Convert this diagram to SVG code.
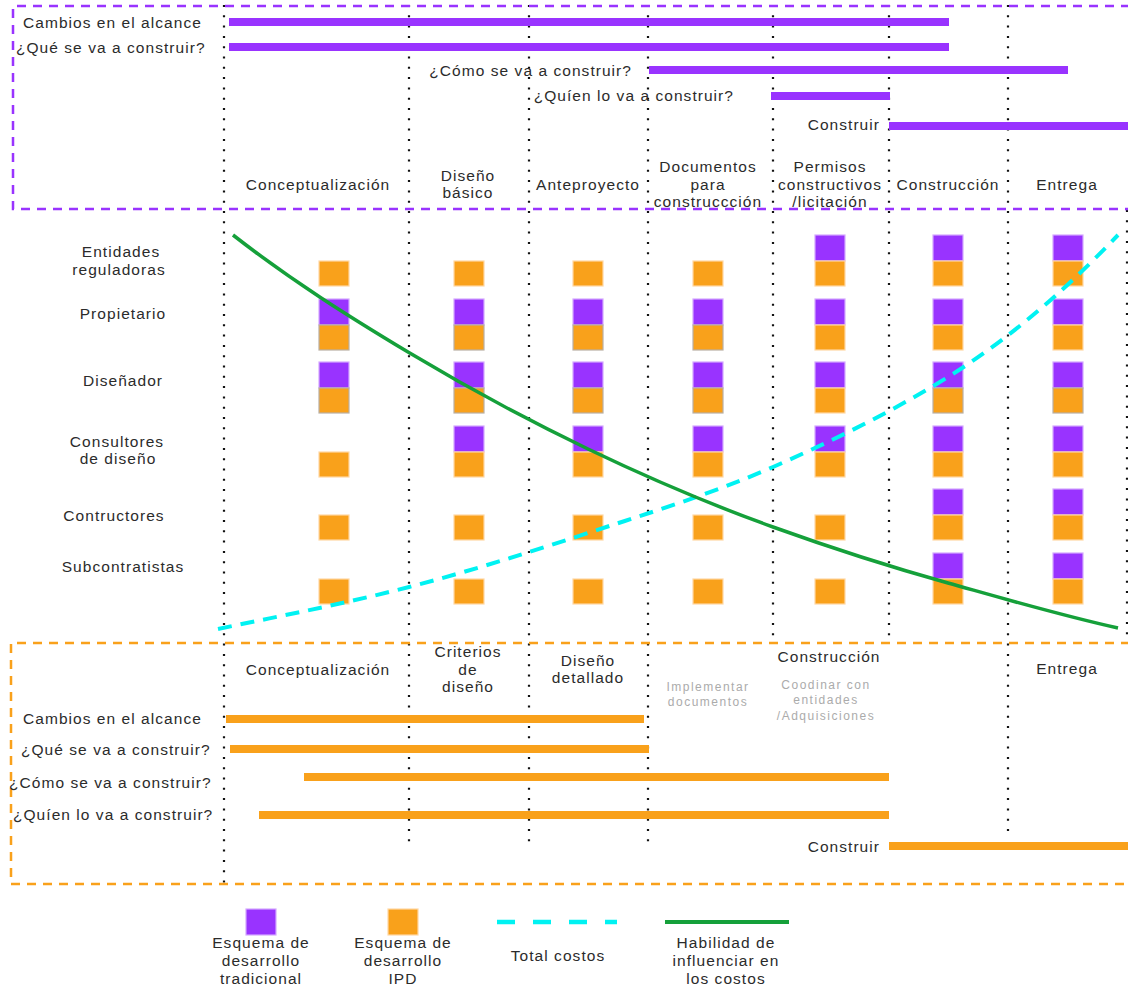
<svg xmlns="http://www.w3.org/2000/svg" xmlns:xlink="http://www.w3.org/1999/xlink" width="1128" height="988" viewBox="0 0 1128 988">
  <style>
    text { font-family: "Liberation Sans", Arial, sans-serif; font-size: 15.5px; fill: #2b2b2b; letter-spacing: 1.05px; }
    .m { text-anchor: middle; }
    .e { text-anchor: end; }
    .note { font-size: 12px; fill: #ababab; letter-spacing: 1.5px; text-anchor: middle; }
    .grid { stroke: #111; stroke-width: 2.2; stroke-dasharray: 2 8.3; fill: none; }
    .frameP { fill: none; stroke: #9933ff; stroke-width: 2.5; stroke-dasharray: 9 7; }
    .frameO { fill: none; stroke: #f9a11b; stroke-width: 2.5; stroke-dasharray: 9 7; }
    .barP { stroke: #9933ff; stroke-width: 8; }
    .barO { stroke: #f9a11b; stroke-width: 8; }
    .p { fill: #9933ff; stroke: #d4a8ff; stroke-width: 1.2; }
    .o { fill: #f9a11b; stroke: #ffd8a4; stroke-width: 1.2; }
    .g { stroke: #b9b0a4; }
    .cost { fill: none; stroke: #00f2f2; stroke-width: 4; stroke-dasharray: 14 9; }
    .infl { fill: none; stroke: #15a03a; stroke-width: 3.5; }
  </style>
  <defs>
    <rect id="sp" width="30" height="26" class="p"/>
    <rect id="so" width="30" height="25" class="o"/>
    <rect id="sg" width="30" height="25" class="o g"/>
  </defs>

  <rect width="1128" height="988" fill="#ffffff"/>

  <!-- phase separators -->
  <g id="grid">
    <line class="grid" x1="224" y1="5" x2="224" y2="886"/>
    <line class="grid" x1="409" y1="5" x2="409" y2="846"/>
    <line class="grid" x1="529" y1="5" x2="529" y2="846"/>
    <line class="grid" x1="648" y1="5" x2="648" y2="846"/>
    <line class="grid" x1="773" y1="5" x2="773" y2="643"/>
    <line class="grid" x1="889" y1="5" x2="889" y2="643"/>
    <line class="grid" x1="1008" y1="5" x2="1008" y2="836"/>
    <line class="grid" x1="1127" y1="210" x2="1127" y2="643"/>
  </g>

  <!-- traditional delivery frame -->
  <g id="traditional">
    <path class="frameP" d="M1130 6 H13 V209 H1130"/>
    <text x="23" y="28">Cambios en el alcance</text>
    <text x="16" y="53">¿Qué se va a construir?</text>
    <text class="e" x="632" y="76">¿Cómo se va a construir?</text>
    <text class="e" x="734" y="101">¿Quíen lo va a construir?</text>
    <text class="e" x="880" y="130">Construir</text>
    <line class="barP" x1="229" y1="22" x2="949" y2="22"/>
    <line class="barP" x1="229" y1="47" x2="949" y2="47"/>
    <line class="barP" x1="649" y1="70" x2="1068" y2="70"/>
    <line class="barP" x1="771" y1="96" x2="890" y2="96"/>
    <line class="barP" x1="889" y1="126" x2="1128" y2="126"/>
  </g>

  <g id="phases-top">
    <text class="m" x="318" y="190">Conceptualización</text>
    <text class="m" x="468" y="181">Diseño</text>
    <text class="m" x="468" y="198">básico</text>
    <text class="m" x="588" y="190">Anteproyecto</text>
    <text class="m" x="708" y="172">Documentos</text>
    <text class="m" x="708" y="190">para</text>
    <text class="m" x="708" y="207">construccción</text>
    <text class="m" x="830" y="172">Permisos</text>
    <text class="m" x="830" y="190">constructivos</text>
    <text class="m" x="830" y="207">/licitación</text>
    <text class="m" x="948" y="190">Construcción</text>
    <text class="m" x="1067" y="190">Entrega</text>
  </g>

  <!-- participants -->
  <g id="participants">
    <text class="m" x="121" y="257">Entidades</text>
    <text class="m" x="119" y="275">reguladoras</text>
    <text class="m" x="123" y="319">Propietario</text>
    <text class="m" x="123" y="386">Diseñador</text>
    <text class="m" x="117" y="447">Consultores</text>
    <text class="m" x="118" y="464">de diseño</text>
    <text class="m" x="114" y="521">Contructores</text>
    <text class="m" x="123" y="572">Subcontratistas</text>
  </g>

  <!-- involvement per phase: purple = traditional, orange = IPD -->
  <g id="col-1">
    <use href="#so" x="319" y="261"/>
    <use href="#sp" x="319" y="299"/><use href="#sg" x="319" y="325"/>
    <use href="#sp" x="319" y="362"/><use href="#sg" x="319" y="388"/>
    <use href="#so" x="319" y="452"/>
    <use href="#so" x="319" y="515"/>
    <use href="#so" x="319" y="579"/>
  </g>
  <g id="col-2">
    <use href="#so" x="454" y="261"/>
    <use href="#sp" x="454" y="299"/><use href="#sg" x="454" y="325"/>
    <use href="#sp" x="454" y="362"/><use href="#sg" x="454" y="388"/>
    <use href="#sp" x="454" y="426"/><use href="#so" x="454" y="452"/>
    <use href="#so" x="454" y="515"/>
    <use href="#so" x="454" y="579"/>
  </g>
  <g id="col-3">
    <use href="#so" x="573" y="261"/>
    <use href="#sp" x="573" y="299"/><use href="#sg" x="573" y="325"/>
    <use href="#sp" x="573" y="362"/><use href="#sg" x="573" y="388"/>
    <use href="#sp" x="573" y="426"/><use href="#so" x="573" y="452"/>
    <use href="#so" x="573" y="515"/>
    <use href="#so" x="573" y="579"/>
  </g>
  <g id="col-4">
    <use href="#so" x="693" y="261"/>
    <use href="#sp" x="693" y="299"/><use href="#sg" x="693" y="325"/>
    <use href="#sp" x="693" y="362"/><use href="#sg" x="693" y="388"/>
    <use href="#sp" x="693" y="426"/><use href="#so" x="693" y="452"/>
    <use href="#so" x="693" y="515"/>
    <use href="#so" x="693" y="579"/>
  </g>
  <g id="col-5">
    <use href="#sp" x="815" y="235"/><use href="#so" x="815" y="261"/>
    <use href="#sp" x="815" y="299"/><use href="#so" x="815" y="325"/>
    <use href="#sp" x="815" y="362"/><use href="#so" x="815" y="388"/>
    <use href="#sp" x="815" y="426"/><use href="#so" x="815" y="452"/>
    <use href="#so" x="815" y="515"/>
    <use href="#so" x="815" y="579"/>
  </g>
  <g id="col-6">
    <use href="#sp" x="933" y="235"/><use href="#so" x="933" y="261"/>
    <use href="#sp" x="933" y="299"/><use href="#so" x="933" y="325"/>
    <use href="#sp" x="933" y="362"/><use href="#sg" x="933" y="388"/>
    <use href="#sp" x="933" y="426"/><use href="#so" x="933" y="452"/>
    <use href="#sp" x="933" y="489"/><use href="#so" x="933" y="515"/>
    <use href="#sp" x="933" y="553"/><use href="#so" x="933" y="579"/>
  </g>
  <g id="col-7">
    <use href="#sp" x="1053" y="235"/><use href="#so" x="1053" y="261"/>
    <use href="#sp" x="1053" y="299"/><use href="#so" x="1053" y="325"/>
    <use href="#sp" x="1053" y="362"/><use href="#sg" x="1053" y="388"/>
    <use href="#sp" x="1053" y="426"/><use href="#so" x="1053" y="452"/>
    <use href="#sp" x="1053" y="489"/><use href="#so" x="1053" y="515"/>
    <use href="#sp" x="1053" y="553"/><use href="#so" x="1053" y="579"/>
  </g>

  <!-- curves -->
  <g id="connectors">
    <path class="cost" d="M218 629 C281.7 615.6 345.3 603.6 409 587 C468.7 571.5 528.3 552.7 588 533 C649.7 512.6 711.3 494.1 773 467 C831.3 441.3 889.7 413.1 948 377 C1004.7 341.8 1061.3 294.5 1118 235"/>
    <path class="infl" d="M233 235 C291.3 280.5 349.7 317 408 352 C468 388 528 420.2 588 449 C649.7 478.6 711.3 504.8 773 527 C831.3 548 889.7 566.7 948 583 C1004.7 598.9 1061.3 615.5 1118 628"/>
  </g>

  <!-- IPD delivery frame -->
  <g id="ipd">
    <path class="frameO" d="M1130 643 H11 V884 H1130"/>
    <text x="23" y="724">Cambios en el alcance</text>
    <text x="21" y="755">¿Qué se va a construir?</text>
    <text x="9" y="788">¿Cómo se va a construir?</text>
    <text x="13" y="820">¿Quíen lo va a construir?</text>
    <text class="e" x="880" y="852">Construir</text>
    <line class="barO" x1="226" y1="719" x2="644" y2="719"/>
    <line class="barO" x1="230" y1="749" x2="649" y2="749"/>
    <line class="barO" x1="304" y1="777" x2="889" y2="777"/>
    <line class="barO" x1="259" y1="815" x2="889" y2="815"/>
    <line class="barO" x1="889" y1="846" x2="1128" y2="846"/>
  </g>

  <g id="phases-bottom">
    <text class="m" x="318" y="675">Conceptualización</text>
    <text class="m" x="468" y="657">Criterios</text>
    <text class="m" x="468" y="675">de</text>
    <text class="m" x="468" y="692">diseño</text>
    <text class="m" x="588" y="666">Diseño</text>
    <text class="m" x="588" y="683">detallado</text>
    <text class="note" x="708" y="691">Implementar</text>
    <text class="note" x="708" y="706">documentos</text>
    <text class="m" x="829" y="662">Construcción</text>
    <text class="note" x="826" y="689">Coodinar con</text>
    <text class="note" x="826" y="704">entidades</text>
    <text class="note" x="826" y="720">/Adquisiciones</text>
    <text class="m" x="1067" y="674">Entrega</text>
  </g>

  <!-- legend -->
  <g id="legend">
    <rect x="246" y="909" width="30" height="26" class="p"/>
    <text class="m" x="261" y="948">Esquema de</text>
    <text class="m" x="261" y="966">desarrollo</text>
    <text class="m" x="261" y="984">tradicional</text>
    <rect x="388" y="909" width="30" height="26" class="o"/>
    <text class="m" x="403" y="948">Esquema de</text>
    <text class="m" x="403" y="966">desarrollo</text>
    <text class="m" x="403" y="984">IPD</text>
    <line x1="497" y1="922" x2="617" y2="922" stroke="#00f2f2" stroke-width="4.5" stroke-dasharray="18 18"/>
    <text class="m" x="558" y="961">Total costos</text>
    <line x1="665" y1="922" x2="789" y2="922" stroke="#15a03a" stroke-width="4"/>
    <text class="m" x="726" y="948">Habilidad de</text>
    <text class="m" x="726" y="966">influenciar en</text>
    <text class="m" x="726" y="984">los costos</text>
  </g>
</svg>
